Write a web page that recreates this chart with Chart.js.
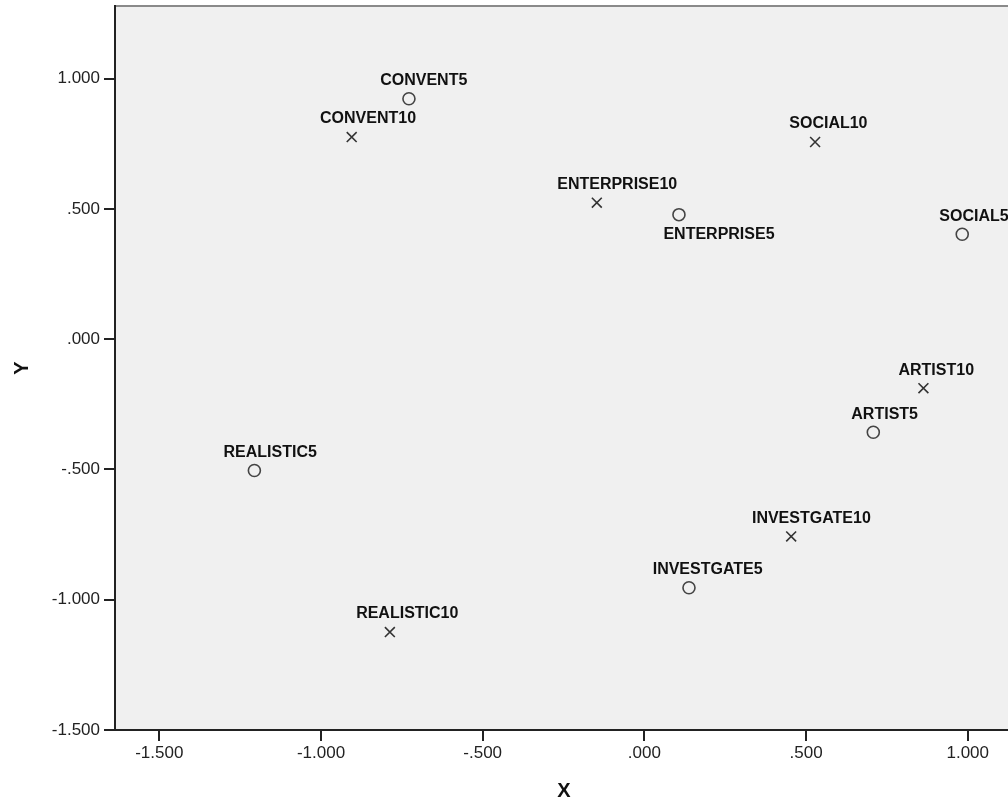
<!DOCTYPE html>
<html>
<head>
<meta charset="utf-8">
<script src="https://cdn.jsdelivr.net/npm/chart.js@4"></script>
<style>
  html, body { margin: 0; padding: 0; background: #fff; overflow: hidden; }
  #wrap { width: 1013px; height: 806px; }
</style>
</head>
<body>
<div id="wrap"><canvas id="plot"></canvas></div>
<script>
// points
const names5 = ['CONVENT5', 'ENTERPRISE5', 'SOCIAL5', 'ARTIST5', 'REALISTIC5', 'INVESTGATE5'];
const x5 = [-0.728, 0.107, 0.983, 0.708, -1.206, 0.138];
const y5 = [0.923, 0.478, 0.403, -0.357, -0.504, -0.954];

const names10 = ['CONVENT10', 'SOCIAL10', 'ENTERPRISE10', 'ARTIST10', 'INVESTGATE10', 'REALISTIC10'];
const x10 = [-0.905, 0.528, -0.147, 0.863, 0.454, -0.787];
const y10 = [0.776, 0.757, 0.524, -0.188, -0.757, -1.124];

const xTicks = [-1.5, -1.0, -0.5, 0.0, 0.5, 1.0];
const yTicks = [-1.5, -1.0, -0.5, 0.0, 0.5, 1.0];

// label placement tweaks (label sits above the mark unless listed here)
const labelTweaks = { ENTERPRISE5: { below: true, shift: 0.14 } };

Chart.defaults.font.family = '"Liberation Sans", Arial, sans-serif';
Chart.defaults.color = '#222';

const fmt = v => {
  let s = Number(v).toFixed(3);
  return s.replace(/^(-?)0\./, '$1.');
};

const toPoints = (xs, ys) => xs.map((x, i) => ({ x: x, y: ys[i] }));

const plotBg = {
  id: 'plotBg',
  beforeDraw(chart) {
    const { ctx, chartArea: a } = chart;
    ctx.save();
    ctx.fillStyle = '#f0f0f0';
    ctx.fillRect(a.left, a.top, a.right - a.left, a.bottom - a.top);
    ctx.strokeStyle = '#8a8a8a';
    ctx.lineWidth = 2;
    ctx.beginPath();
    ctx.moveTo(a.left, a.top);
    ctx.lineTo(a.right, a.top);
    ctx.stroke();
    ctx.restore();
  }
};

const pointLabels = {
  id: 'pointLabels',
  afterDatasetsDraw(chart) {
    const ctx = chart.ctx;
    ctx.save();
    ctx.font = 'bold 16px "Liberation Sans", Arial, sans-serif';
    ctx.fillStyle = '#111';
    ctx.textAlign = 'left';
    ctx.textBaseline = 'middle';
    chart.data.datasets.forEach((ds, di) => {
      chart.getDatasetMeta(di).data.forEach((pt, i) => {
        const name = ds.names[i];
        const t = labelTweaks[name] || {};
        const w = ctx.measureText(name).width;
        const shift = t.shift !== undefined ? t.shift : 0.33;
        const dy = t.below ? 20 : -18;
        ctx.fillText(name, pt.x - shift * w, pt.y + dy);
      });
    });
    ctx.restore();
  }
};

new Chart(document.getElementById('plot'), {
  type: 'scatter',
  data: {
    datasets: [
      {
        label: '5',
        names: names5,
        data: toPoints(x5, y5),
        pointStyle: 'circle',
        pointRadius: 6,
        pointHoverRadius: 6,
        backgroundColor: 'rgba(0,0,0,0)',
        borderColor: '#444',
        pointBorderWidth: 1.6
      },
      {
        label: '10',
        names: names10,
        data: toPoints(x10, y10),
        pointStyle: 'crossRot',
        pointRadius: 7,
        pointHoverRadius: 7,
        backgroundColor: 'rgba(0,0,0,0)',
        borderColor: '#333',
        pointBorderWidth: 1.6
      }
    ]
  },
  options: {
    responsive: true,
    maintainAspectRatio: false,
    animation: false,
    layout: { autoPadding: false, padding: { top: 6, left: 0, right: 0, bottom: 0 } },
    plugins: {
      legend: { display: false },
      tooltip: { enabled: false }
    },
    scales: {
      x: {
        type: 'linear',
        min: -1.637,
        max: 1.140,
        afterBuildTicks: s => { s.ticks = xTicks.map(v => ({ value: v })); },
        afterFit: s => { s.height = 76; s.paddingLeft = 0; s.paddingRight = 0; },
        ticks: {
          callback: fmt,
          font: { size: 17 },
          color: '#222',
          padding: 2,
          maxRotation: 0,
          autoSkip: false
        },
        grid: { drawOnChartArea: false, drawTicks: true, tickLength: 11, tickColor: '#222', lineWidth: 2 },
        border: { display: true, color: '#222', width: 2 },
        title: {
          display: true,
          text: 'X',
          font: { size: 20, weight: 'bold' },
          color: '#111',
          padding: { top: 0, bottom: 3 }
        }
      },
      y: {
        type: 'linear',
        min: -1.5,
        max: 1.279,
        afterBuildTicks: s => { s.ticks = yTicks.map(v => ({ value: v })); },
        afterFit: s => { s.width = 115; s.paddingTop = 0; s.paddingBottom = 0; },
        ticks: {
          callback: fmt,
          font: { size: 17 },
          color: '#222',
          padding: 4,
          autoSkip: false
        },
        grid: { drawOnChartArea: false, drawTicks: true, tickLength: 11, tickColor: '#222', lineWidth: 2 },
        border: { display: true, color: '#222', width: 2 },
        title: {
          display: true,
          text: 'Y',
          font: { size: 20, weight: 'bold' },
          color: '#111',
          padding: { top: 10, bottom: 0 }
        }
      }
    }
  },
  plugins: [plotBg, pointLabels]
});
</script>
</body>
</html>
